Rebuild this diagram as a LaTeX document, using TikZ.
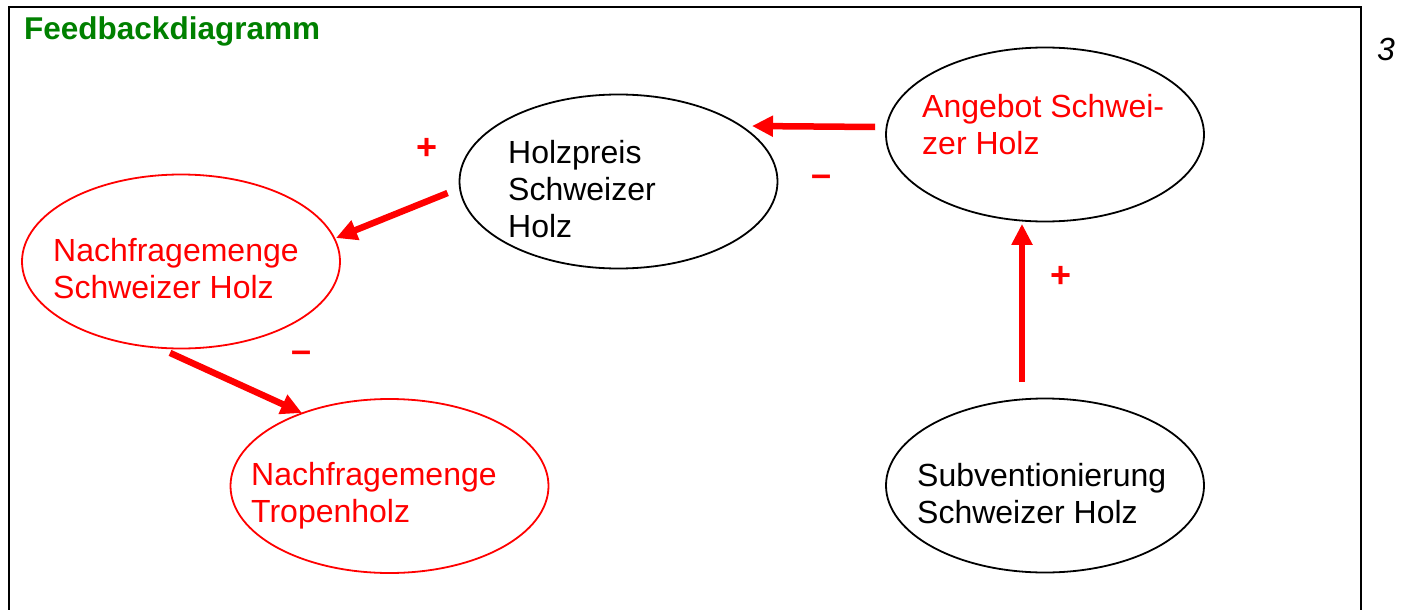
\documentclass[tikz,border=0pt]{standalone}
\usepackage{fontspec}
\setmainfont{Liberation Sans}
\usetikzlibrary{shapes.geometric,arrows.meta}
\definecolor{fbred}{RGB}{255,0,0}
\definecolor{fbgreen}{RGB}{0,128,0}
\tikzset{
  oval/.style={ellipse, minimum width=318pt, minimum height=174pt, inner sep=0pt, line width=1.8pt},
  blackoval/.style={oval, draw=black},
  redoval/.style={oval, draw=fbred},
  lbl/.style={anchor=base west, inner sep=0pt, align=left, font=\fontsize{32}{37}\selectfont},
  sign/.style={anchor=base, inner sep=0pt, text=fbred, font=\fontsize{36}{40}\selectfont\bfseries},
  arr/.style={draw=fbred, line width=6.5pt, -{Triangle[length=21pt,width=20pt]}},
  frameline/.style={line width=2pt, draw=black}
}
\begin{document}
\begin{tikzpicture}[x=1pt,y=-1pt]
\useasboundingbox (0,0) rectangle (1414,610);
\draw[frameline] (9,614) -- (9,7.5) -- (1361,7.5) -- (1361,614);
\node[anchor=base west, inner sep=0pt, text=fbgreen, font=\fontsize{31.5}{36}\selectfont\bfseries] (title) at (24,40) {Feedbackdiagramm};
\node[anchor=base west, inner sep=0pt, font=\fontsize{32}{37}\selectfont\itshape] (pnum) at (1377,60) {3};
% ellipses
\node[blackoval] (hp) at (618.5,181.5) {};
\node[blackoval] (ang) at (1045,134.5) {};
\node[redoval] (nsh) at (181,261.5) {};
\node[redoval] (trop) at (389.5,486) {};
\node[blackoval] (sub) at (1045,485.5) {};
% texts (anchored at the baseline of the last line)
\node[lbl] (hpt) at (508,237) {Holzpreis\\Schweizer\\Holz};
\node[lbl, text=fbred] (angt) at (922,154) {Angebot Schwei-\\zer Holz};
\node[lbl, text=fbred] (nsht) at (53,298) {Nachfragemenge\\Schweizer Holz};
\node[lbl, text=fbred] (tropt) at (251,522) {Nachfragemenge\\Tropenholz};
\node[lbl] (subt) at (917,523) {Subventionierung\\Schweizer Holz};
% arrows
\draw[arr] ([shift={(-10,-7.5)}]ang.west) -- ([shift={(133.5,-55.5)}]hp.center);
\draw[arr] ([shift={(-11,11.5)}]hp.west) -- ([shift={(155,-23.5)}]nsh.center);
\draw[arr] ([shift={(-11,3.5)}]nsh.south) -- ([shift={(-87.5,-73)}]trop.center);
\draw[arr] ([shift={(-23,-15.5)}]sub.north) -- ([shift={(-23,1.5)}]ang.south);
% signs
\node[sign] (p1) at (427,159) {+};
\node[sign] (m1) at (822,186) {–};
\node[sign] (m2) at (302,362) {–};
\node[sign] (p2) at (1061,287.5) {+};
\end{tikzpicture}
\end{document}
